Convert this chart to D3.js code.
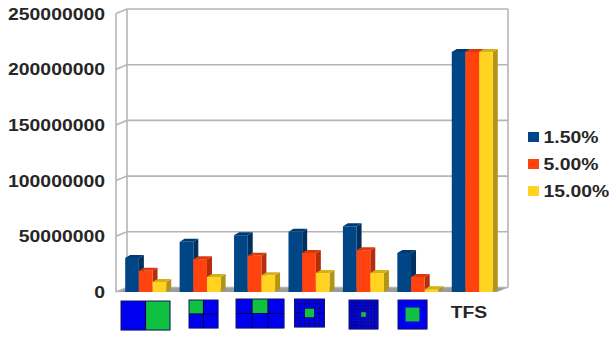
<!DOCTYPE html>
<html>
<head>
<meta charset="utf-8">
<script src="https://cdn.jsdelivr.net/npm/d3@7/dist/d3.min.js"></script>
<style>
html,body{margin:0;padding:0;background:#fff}
svg{display:block}
text{font-family:"Liberation Sans",Arial,sans-serif;font-weight:700;fill:#262626}
</style>
</head>
<body>
<svg id="chart" width="609" height="337"></svg>
<script>
// Series values, in millions
const categories = ["a", "b", "c", "d", "e", "f", "TFS"];
const low = [30.5, 45, 51, 54, 59, 35, 215.5];
const mid = [19, 29.5, 32.5, 35, 37.5, 13.5, 215.5];
const high = [9, 13.5, 15, 17, 17, 2.5, 215.5];
const seriesNames = ["1.50%", "5.00%", "15.00%"];
const frontColors = ["#004586", "#ff420e", "#ffd320"];
const sideColors = ["#00305e", "#b32e0a", "#b39416"];
const topColors = ["#003a70", "#d93a0c", "#d4af1b"];
const yTicks = [0, 50, 100, 150, 200, 250];

// Mesh drawn under each category: columns, rows, green cells or centred inset
const meshCols = [2, 2, 3, 6, 10, 1];
const meshRows = [1, 2, 2, 6, 10, 1];
const meshGreen = [[[1, 0]], [[0, 0]], [[1, 0]], [], [], []];
const meshInset = [0, 0, 0, 0.3, 0.16, 0.48];
const meshLefts = [121, 189, 236, 294.5, 349, 398];
const meshTops = [301, 300, 299, 299, 300, 300];
const meshWidths = [49, 29, 48, 30, 29, 29];
const meshHeights = [29, 28, 29, 28, 29, 29];
const meshLineWidths = [1.2, 1.2, 1.2, 0.7, 0.6, 0];

const depthX = 11, depthY = 4.5;   // wall offset of the 3D box
const barDX = 5, barDY = 3;        // offset of a bar's side face
const textStretch = 1.14;          // labels run wider than the font's own proportions
const fontSize = 17;

const svg = d3.select("#chart");
const y = d3.scaleLinear().domain([0, 250]).range([292, 13.5]);
const x0 = 116, x1 = 497;
const x = d3.scaleBand().domain(categories).range([x0 + 2.5, x1 + 2.5]).paddingInner(0.246).paddingOuter(0.123);
const xs = d3.scaleBand().domain(d3.range(3)).range([0, x.bandwidth()]);

const gridColor = "#b5b5b5";

// Floor, then gridlines and wall edges
svg.append("path")
  .attr("d", d3.line()([[x1, y(0)], [x1 + depthX, y(0) - depthY], [x0 + depthX, y(0) - depthY], [x0, y(0)]]) + "Z")
  .attr("fill", "#9b9b9b");
svg.selectAll(".grid").data(yTicks).join("path").attr("class", "grid")
  .attr("fill", "none").attr("stroke", gridColor).attr("stroke-width", 1.6)
  .attr("d", d => d3.line()([[x0, y(d)], [x0 + depthX, y(d) - depthY], [x1 + depthX, y(d) - depthY]]));
[[x0, 0], [x0 + depthX, depthY], [x1 + depthX, depthY]].forEach(([ex, ey]) => {
  svg.append("path").attr("fill", "none").attr("stroke", gridColor).attr("stroke-width", 1.6)
    .attr("d", d3.line()([[ex, y(0) - ey], [ex, y(250) - ey]]));
});

// Places a text label with the horizontal stretch applied
const placed = (px, py) => `translate(${px},${py}) scale(${textStretch},1)`;

// Value axis labels
svg.selectAll(".ylab").data(yTicks).join("text").attr("class", "ylab")
  .attr("transform", d => placed(105, y(d))).attr("dy", "0.36em")
  .attr("text-anchor", "end").attr("font-size", fontSize)
  .text(d => d === 0 ? "0" : String(d * 1000000));

// Bars, in series order so each side face is overlapped by the next bar
[low, mid, high].forEach((values, s) => {
  const g = svg.append("g");
  categories.forEach((c, i) => {
    const left = x(c) + xs(s), w = xs.bandwidth(), top = y(values[i]), base = y(0);
    g.append("path").attr("fill", sideColors[s])
      .attr("d", d3.line()([[left + w, top], [left + w + barDX, top - barDY], [left + w + barDX, base - barDY], [left + w, base]]) + "Z");
    g.append("path").attr("fill", topColors[s])
      .attr("d", d3.line()([[left, top], [left + barDX, top - barDY], [left + w + barDX, top - barDY], [left + w, top]]) + "Z");
    g.append("rect").attr("x", left).attr("y", top).attr("width", w).attr("height", base - top)
      .attr("fill", frontColors[s]);
  });
});

// Mesh thumbnails along the category axis
meshCols.forEach((cols, i) => {
  const w = meshWidths[i], h = meshHeights[i], rows = meshRows[i];
  const px = d3.scaleLinear().domain([0, cols]).range([meshLefts[i], meshLefts[i] + w]);
  const py = d3.scaleLinear().domain([0, rows]).range([meshTops[i], meshTops[i] + h]);
  const g = svg.append("g");
  g.selectAll("rect.cell").data(d3.cross(d3.range(cols), d3.range(rows))).join("rect").attr("class", "cell")
    .attr("x", d => px(d[0])).attr("y", d => py(d[1]))
    .attr("width", w / cols + 0.2).attr("height", h / rows + 0.2)
    .attr("fill", d => meshGreen[i].some(k => k[0] === d[0] && k[1] === d[1]) ? "#10c040" : "#0000f0");
  // Element edges go over the fills, the refined centre over the edges
  const edges = [
    ...d3.range(1, cols).map(c => [[px(c), py(0)], [px(c), py(rows)]]),
    ...d3.range(1, rows).map(r => [[px(0), py(r)], [px(cols), py(r)]])
  ];
  g.selectAll("path.edge").data(edges).join("path").attr("class", "edge")
    .attr("d", d => d3.line()(d)).attr("fill", "none")
    .attr("stroke", "#00005a").attr("stroke-width", meshLineWidths[i]);
  if (meshInset[i] > 0) {
    const iw = w * meshInset[i], ih = h * meshInset[i];
    g.append("rect").attr("x", px(cols / 2) - iw / 2).attr("y", py(rows / 2) - ih / 2)
      .attr("width", iw).attr("height", ih).attr("fill", "#10c040");
  }
  g.append("rect").attr("x", px(0)).attr("y", py(0)).attr("width", w).attr("height", h)
    .attr("fill", "none").attr("stroke", "#141460").attr("stroke-width", 1);
});

// Text label of the last category
svg.append("text").attr("transform", placed(469, 318)).attr("text-anchor", "middle")
  .attr("font-size", fontSize).text("TFS");

// Legend
const legend = svg.selectAll(".leg").data(seriesNames).join("g").attr("class", "leg")
  .attr("transform", (d, i) => `translate(528,${137 + i * 27})`);
legend.append("rect").attr("x", 0).attr("y", -5).attr("width", 11).attr("height", 10)
  .attr("fill", (d, i) => frontColors[i]);
legend.append("text").attr("transform", placed(15.5, 0)).attr("dy", "0.36em")
  .attr("font-size", fontSize).text(d => d);
</script>
</body>
</html>
